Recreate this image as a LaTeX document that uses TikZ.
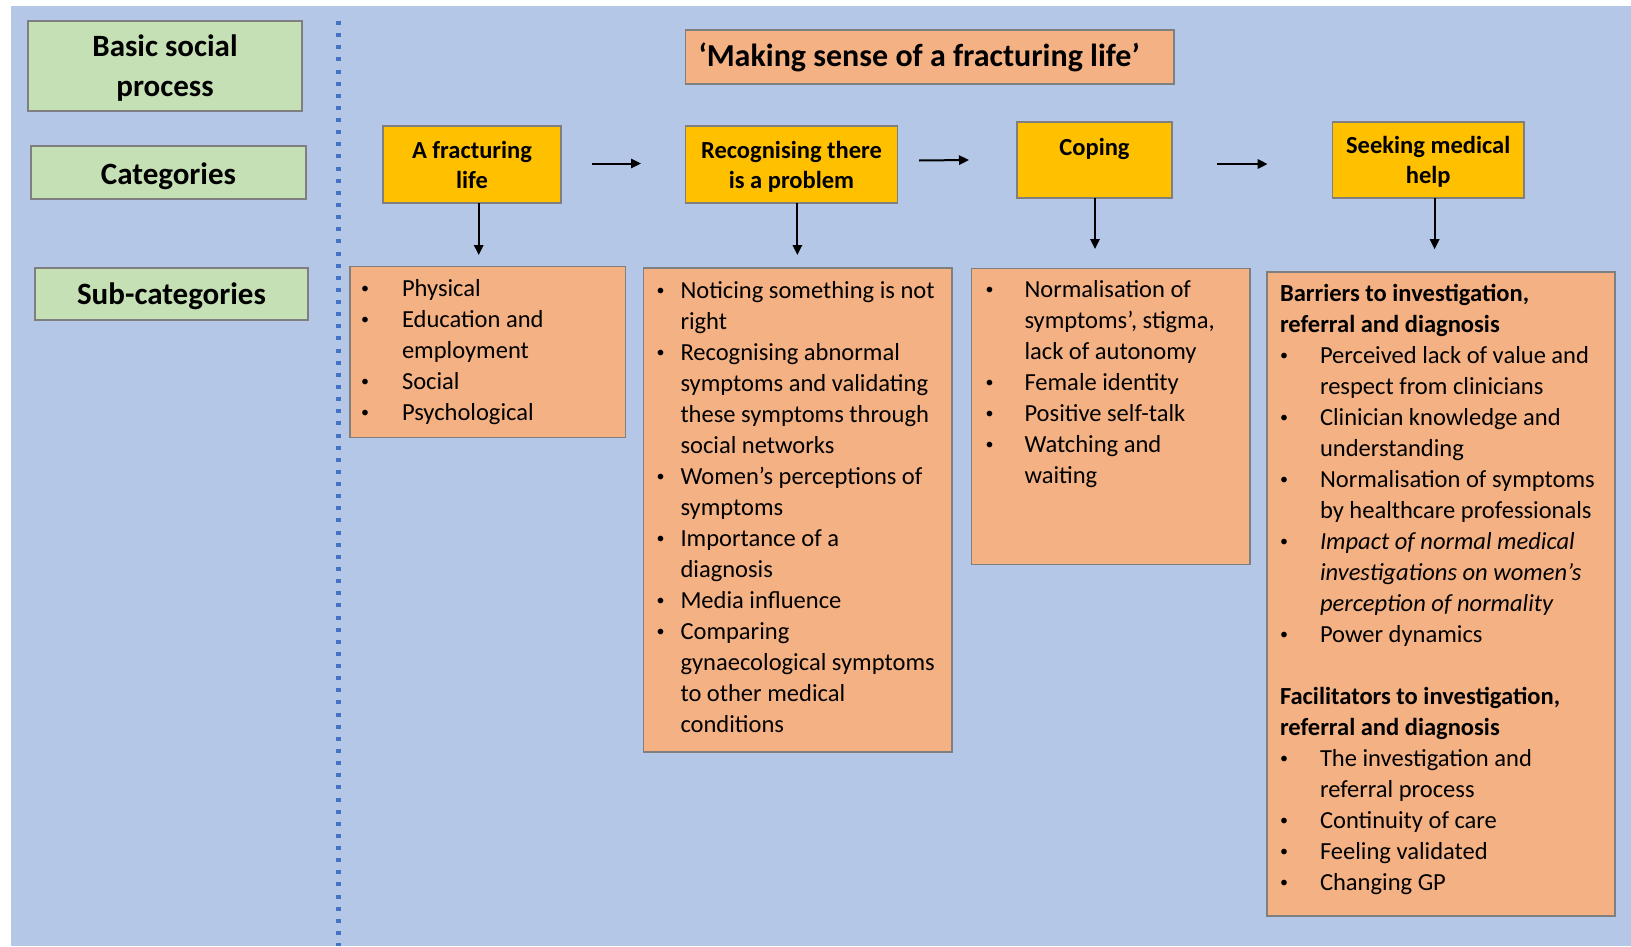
\documentclass[tikz,border=0pt]{standalone}
\usepackage{graphicx}
\usepackage{fontspec}
\setmainfont{Carlito}
\usetikzlibrary{arrows.meta,calc}

% one drawing unit = one pixel of the 1631 x 946 canvas
\newlength\px \setlength\px{0.75pt}

\definecolor{bgblue}{HTML}{B4C7E7}
\definecolor{catgreen}{HTML}{C5E0B4}
\definecolor{suborange}{HTML}{F4B183}
\definecolor{stepyellow}{HTML}{FFC000}
\definecolor{dotblue}{HTML}{4472C4}
\definecolor{edgegray}{HTML}{7F7F7F}

% bullet lists: \ba = bullet centre from box edge, \bb = bullet to text
\newlength\ba \newlength\bb
\newcommand\smallbullet{\raisebox{0.12em}{\scalebox{0.65}{\textbullet}}}
\newcommand\bi[1]{\hspace*{\ba}\makebox[0pt]{\smallbullet}\hspace*{\bb}\mbox{#1}}
\newcommand\ci[1]{\hspace*{\dimexpr\ba+\bb\relax}\mbox{#1}}
\newcommand\hd[1]{\hspace*{13\px}\mbox{\bfseries #1}}

\newcommand\bodyfont{\fontsize{18.4pt}{23.25pt}\selectfont}
\newcommand\stepfont{\bfseries\fontsize{18.4pt}{22.5pt}\selectfont}
\newcommand\labelfont{\bfseries\fontsize{23.25pt}{30pt}\selectfont}
\newcommand\titlefont{\bfseries\fontsize{24pt}{28pt}\selectfont}

\tikzset{
  x=\px, y=-\px,
  basebox/.style={rectangle, draw=edgegray, line width=1pt, inner sep=0pt, outer sep=0pt},
  labelbox/.style={basebox, fill=catgreen},
  titlebox/.style={basebox, fill=suborange},
  stepbox/.style={basebox, fill=stepyellow},
  subbox/.style={basebox, fill=suborange},
  arr/.style={line width=1.5pt, -{Triangle[length=7.5pt,width=7pt]}},
  divider/.style={dotblue, line width=3.75pt, dash pattern=on 3pt off 6.1pt}
}

\begin{document}
\begin{tikzpicture}
\useasboundingbox (0,0) rectangle (1631,946);
\fill[bgblue] (11,6) rectangle (1631,946);

% dotted divider between the legend and the model
\coordinate (dtop) at (338,21);
\coordinate (dbot) at (338,946);
\draw[divider] (dtop) -- (dbot);

% legend
\node[labelbox] (g1) at (165,66)
  {\parbox[t][90\px][t]{274\px}{\centering\labelfont\rule{0pt}{35.7\px}Basic social\\process}};
\node[labelbox] (g2) at (168.5,172.5)
  {\parbox[t][53\px][t]{275\px}{\centering\labelfont\rule{0pt}{38.3\px}Categories}};
\node[labelbox] (g3) at (171.5,294)
  {\parbox[t][52\px][t]{273\px}{\centering\labelfont\rule{0pt}{36\px}Sub-categories}};

% basic social process
\node[titlebox] (t) at (929.75,57)
  {\parbox[t][54\px][t]{488.5\px}{\raggedright\titlefont\rule{0pt}{36.7\px}\hspace*{13\px}‘Making sense of a fracturing life’}};

% categories
\node[stepbox] (y1) at (472,164.5)
  {\parbox[t][77\px][t]{178\px}{\centering\stepfont\rule{0pt}{32\px}A fracturing\\life}};
\node[stepbox] (y2) at (791.5,164.5)
  {\parbox[t][77\px][t]{212\px}{\centering\stepfont\rule{0pt}{32\px}Recognising there\\is a problem}};
\node[stepbox] (y3) at (1094.5,160)
  {\parbox[t][76\px][t]{155\px}{\centering\stepfont\rule{0pt}{33\px}Coping}};
\node[stepbox] (y4) at (1428.2,160)
  {\parbox[t][76\px][t]{191.6\px}{\centering\stepfont\rule{0pt}{31.5\px}Seeking medical\\help}};

% sub-categories
\node[subbox] (o1) at (487.85,352)
  {\parbox[t][170.6\px][t]{275.7\px}{\raggedright\bodyfont
   \setlength\ba{15\px}\setlength\bb{37\px}%
   \rule{0pt}{30\px}\bi{Physical}\\
   \bi{Education and}\\
   \ci{employment}\\
   \bi{Social}\\
   \bi{Psychological}}};

\node[subbox] (o2) at (797.75,510)
  {\parbox[t][484\px][t]{308.5\px}{\raggedright\bodyfont
   \setlength\ba{17\px}\setlength\bb{20\px}%
   \rule{0pt}{30.3\px}\bi{Noticing something is not}\\
   \ci{right}\\
   \bi{Recognising abnormal}\\
   \ci{symptoms and validating}\\
   \ci{these symptoms through}\\
   \ci{social networks}\\
   \bi{Women’s perceptions of}\\
   \ci{symptoms}\\
   \bi{Importance of a}\\
   \ci{diagnosis}\\
   \bi{Media influence}\\
   \bi{Comparing}\\
   \ci{gynaecological symptoms}\\
   \ci{to other medical}\\
   \ci{conditions}}};

\node[subbox] (o3) at (1110.75,416.3)
  {\parbox[t][296\px][t]{278.5\px}{\raggedright\bodyfont
   \setlength\ba{18\px}\setlength\bb{35\px}%
   \rule{0pt}{29\px}\bi{Normalisation of}\\
   \ci{symptoms’, stigma,}\\
   \ci{lack of autonomy}\\
   \bi{Female identity}\\
   \bi{Positive self-talk}\\
   \bi{Watching and}\\
   \ci{waiting}}};

\node[subbox] (o4) at (1441,594)
  {\parbox[t][644.3\px][t]{348\px}{\raggedright\bodyfont
   \setlength\ba{17\px}\setlength\bb{36\px}%
   \rule{0pt}{29.3\px}\hd{Barriers to investigation,}\\
   \hd{referral and diagnosis}\\
   \bi{Perceived lack of value and}\\
   \ci{respect from clinicians}\\
   \bi{Clinician knowledge and}\\
   \ci{understanding}\\
   \bi{Normalisation of symptoms}\\
   \ci{by healthcare professionals}\\
   \bi{\itshape Impact of normal medical}\\
   \ci{\itshape investigations on women’s}\\
   \ci{\itshape perception of normality}\\
   \bi{Power dynamics}\\[31\px]
   \hd{Facilitators to investigation,}\\
   \hd{referral and diagnosis}\\
   \bi{The investigation and}\\
   \ci{referral process}\\
   \bi{Continuity of care}\\
   \bi{Feeling validated}\\
   \bi{Changing GP}}};

% flow between categories
\draw[arr] ($(y1.east)+(31,-1)$) -- ($(y2.west)+(-44.5,-1)$);
\draw[arr] ($(y2.east)+(21.5,-4)$) -- ($(y3.west)+(-48,0)$);
\draw[arr] ($(y3.east)+(45,4)$) -- ($(y4.west)+(-64.8,4)$);

% categories to their sub-categories
\draw[arr] ($(y1.south)+(6.7,0)$) -- ($(y1.south |- o1.north)+(6.7,-11.7)$);
\draw[arr] ($(y2.south)+(5.9,0)$) -- ($(y2.south |- o2.north)+(5.9,-13)$);
\draw[arr] ($(y3.south)+(0.5,0)$) -- ($(y3.south |- o3.north)+(0.5,-19.3)$);
\draw[arr] ($(y4.south)+(6.4,0)$) -- ($(y4.south |- o4.north)+(6.4,-22.7)$);
\end{tikzpicture}
\end{document}
